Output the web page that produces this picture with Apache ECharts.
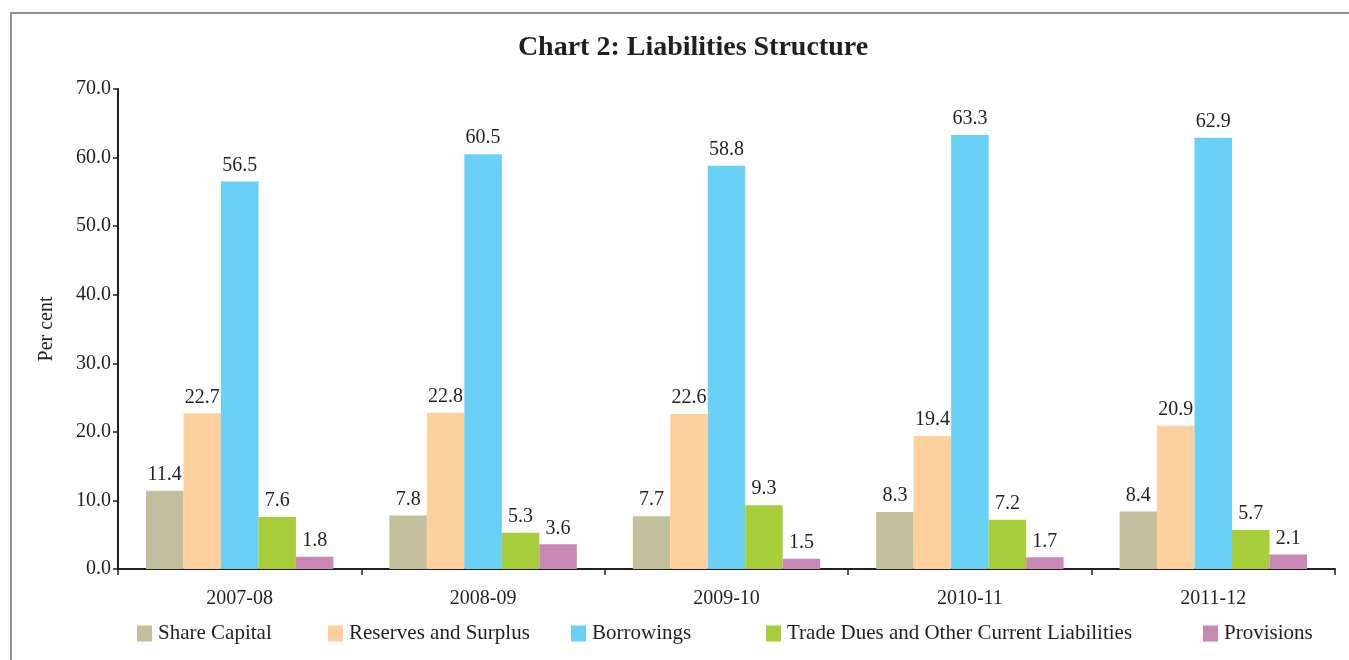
<!DOCTYPE html>
<html><head><meta charset="utf-8">
<script src="https://cdn.jsdelivr.net/npm/echarts@6/dist/echarts.min.js"></script>
<style>html,body{margin:0;padding:0;background:#fff}#c{width:1349px;height:660px}</style>
</head><body><div id="c"></div>
<script>
const categories = ['2007-08','2008-09','2009-10','2010-11','2011-12'];
const shareCapital = [11.4, 7.8, 7.7, 8.3, 8.4];
const reserves = [22.7, 22.8, 22.6, 19.4, 20.9];
const borrowings = [56.5, 60.5, 58.8, 63.3, 62.9];
const tradeDues = [7.6, 5.3, 9.3, 7.2, 5.7];
const provisions = [1.8, 3.6, 1.5, 1.7, 2.1];
const seriesNames = ['Share Capital','Reserves and Surplus','Borrowings','Trade Dues and Other Current Liabilities','Provisions'];
const colors = ['#C3BF9D','#FDD09E','#6BD0F5','#A8CD3A','#C987B4'];
const legendLeft = [137, 328, 571, 766, 1203];
const FONT = '"Liberation Serif", serif';
const chart = echarts.init(document.getElementById('c'));
const mk = (name, data, i) => ({
  name, type: 'bar', data, barGap: '0%', barCategoryGap: '23%',
  itemStyle: { color: colors[i] },
  label: { show: true, position: 'top', distance: 6, formatter: p => p.value.toFixed(1),
    fontFamily: FONT, fontSize: 20, color: '#231f20' }
});
chart.setOption({
  animation: false,
  textStyle: { fontFamily: FONT },
  title: { text: 'Chart 2: Liabilities Structure', left: 688, textAlign: 'center', top: 29,
    textStyle: { fontFamily: FONT, fontWeight: 'bold', fontSize: 28, color: '#231f20' } },
  graphic: [{ type: 'rect', shape: { x: 11, y: 13, width: 1400, height: 700 },
    style: { fill: 'none', stroke: '#6d6e71', lineWidth: 1.5 }, silent: true }],
  legend: seriesNames.map((n, i) => ({
    data: [n], left: legendLeft[i], top: 623, padding: 0, itemWidth: 15, itemHeight: 16, itemGap: 6, icon: 'rect',
    textStyle: { fontFamily: FONT, fontSize: 21, color: '#231f20', padding: [0, 0, 0, 1] } })),
  grid: { left: 118, right: 14, top: 89, bottom: 91, containLabel: false },
  xAxis: { type: 'category', data: categories,
    axisLine: { lineStyle: { color: '#231f20', width: 2 } },
    axisTick: { show: true, length: 6, lineStyle: { color: '#231f20', width: 1.5 } },
    axisLabel: { fontFamily: FONT, fontSize: 20, color: '#231f20', margin: 20 } },
  yAxis: { type: 'value', min: 0, max: 70, interval: 10,
    name: 'Per cent', nameLocation: 'middle', nameGap: 61, nameRotate: 90,
    nameTextStyle: { fontFamily: FONT, fontSize: 20, color: '#231f20' },
    splitLine: { show: false },
    axisLine: { show: true, lineStyle: { color: '#231f20', width: 2 } },
    axisTick: { show: true, length: 5, lineStyle: { color: '#231f20', width: 1.5 } },
    axisLabel: { fontFamily: FONT, fontSize: 20, color: '#231f20', margin: 7, formatter: v => v.toFixed(1) } },
  series: [mk(seriesNames[0], shareCapital, 0), mk(seriesNames[1], reserves, 1), mk(seriesNames[2], borrowings, 2),
           mk(seriesNames[3], tradeDues, 3), mk(seriesNames[4], provisions, 4)]
});
</script></body></html>
